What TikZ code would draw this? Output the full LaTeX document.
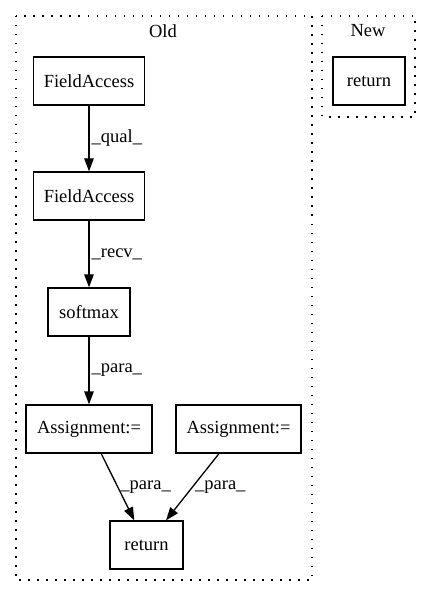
\documentclass[tikz,border=0pt]{standalone}
\usepackage{fontspec}
\setmainfont{Liberation Serif}
\usetikzlibrary{positioning, arrows.meta}

\begin{document}
\begin{tikzpicture}[x=1pt, y=-1pt, line width=1.3pt,
        >={Triangle[length=13pt, width=9.5pt]},
        every node/.style={font=\fontsize{18.5}{22}\selectfont},
        op/.style={draw, rectangle, minimum height=48pt, inner sep=0pt},
        lbl/.style={right, inner sep=2pt},
        cluster/.style={dash pattern=on 1.5pt off 7.5pt}]
        \useasboundingbox (0,0) rectangle (432,596);

        % clusters
        \draw[cluster] (16,16) rectangle (312,580);
        \draw[cluster] (322,16) rectangle (415,117);
        \node (old) at (163,31) {Old};
        \node (new) at (368,31) {New};

        \node[op, minimum width=111pt] (fa1) at (89,81) {FieldAccess};
        \node[op, minimum width=111pt] (fa2) at (89,196) {FieldAccess};
        \node[op, minimum width=82pt] (sm) at (89,312) {softmax};
        \node[op, minimum width=126pt] (as1) at (89,429) {Assignment:=};
        \node[op, minimum width=125pt] (as2) at (238.5,429) {Assignment:=};
        \node[op, minimum width=73pt] (ret) at (146.5,545) {return};
        \node[op, minimum width=72pt] (ret2) at (369,81) {return};

        \draw[->] (fa1) to node[lbl] {\_qual\_} (fa2);
        \draw[->] (fa2) to node[lbl] {\_recv\_} (sm);
        \draw[->] (sm) to node[lbl] {\_para\_} (as1);
        \draw[->] (as1) to node[lbl] {\_para\_} (ret);
        \draw[->] (as2) to node[lbl] {\_para\_} (ret);
\end{tikzpicture}
\end{document}
